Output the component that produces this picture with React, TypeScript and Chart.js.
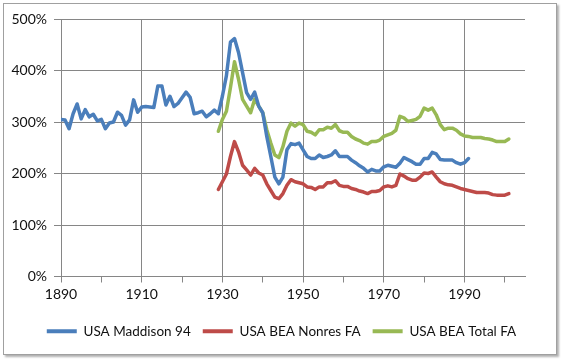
import React, { useEffect, useRef } from "react";
import { Chart, registerables } from "chart.js";

Chart.register(...registerables);

const maddisonStart = 1890;
const maddison = [
  305, 304, 287, 316, 335, 306, 324, 310, 315, 302,
  305, 287, 298, 300, 319, 313, 294, 304, 343, 319,
  329, 330, 329, 328, 370, 370, 333, 350, 330, 336,
  347, 358, 348, 316, 318, 321, 310, 316, 323, 316,
  350, 390, 455, 462, 435, 396, 357, 344, 358, 331,
  318, 272, 233, 193, 180, 193, 246, 258, 256, 259,
  246, 233, 229, 229, 236, 231, 233, 236, 244, 233,
  233, 233, 226, 221, 215, 210, 203, 208, 205, 205,
  213, 216, 214, 212, 220, 231, 227, 223, 218, 218,
  229, 229, 241, 238, 227, 226, 226, 226, 221, 218,
  221, 229,
];

const beaStart = 1929;
const beaNonres = [
  169,
  184, 199, 233, 262, 242, 216, 207, 197, 210, 201,
  197, 180, 167, 154, 151, 161, 177, 188, 184, 182,
  180, 174, 173, 169, 174, 174, 182, 182, 186, 177,
  175, 175, 171, 169, 166, 164, 161, 165, 165, 167,
  174, 176, 174, 177, 199, 195, 190, 187, 187, 193,
  201, 200, 203, 193, 184, 180, 178, 177, 174, 171,
  169, 167, 165, 163, 163, 163, 162, 159, 158, 158,
  158, 161,
];
const beaTotal = [
  282,
  305, 321, 367, 417, 383, 344, 331, 318, 344, 331,
  318, 285, 259, 236, 231, 252, 282, 298, 292, 298,
  295, 282, 280, 275, 285, 285, 290, 288, 295, 283,
  280, 280, 272, 267, 264, 259, 257, 262, 262, 265,
  272, 275, 278, 284, 311, 308, 301, 303, 305, 311,
  327, 323, 327, 314, 295, 285, 288, 288, 284, 277,
  273, 272, 270, 270, 270, 268, 267, 265, 262, 262,
  262, 267,
];

const seriesNames = ["USA Maddison 94", "USA BEA Nonres FA", "USA BEA Total FA"];
const seriesColors = ["#4A7EBB", "#BE4B48", "#98B954"];
const xLabelYears = [1890, 1910, 1930, 1950, 1970, 1990];
const xTickYears = [1890, 1900, 1910, 1920, 1930, 1940, 1950, 1960, 1970, 1980, 1990, 2000];
const yTickValues = [0, 100, 200, 300, 400, 500];

const toPoints = (start: number, vals: number[]) => vals.map((v, i) => ({ x: start + i, y: v }));

export default function App() {
  const ref = useRef<HTMLCanvasElement | null>(null);
  useEffect(() => {
    if (!ref.current) return;
    const gridColor = "#868686";
    const font = { family: "Lato", size: 14 };
    const legendFont = { family: "Lato", size: 13.5 };
    const textColor = "#111";
    const chart = new Chart(ref.current, {
      type: "line",
      data: {
        datasets: [
          { label: seriesNames[0], data: toPoints(maddisonStart, maddison) },
          { label: seriesNames[1], data: toPoints(beaStart, beaNonres) },
          { label: seriesNames[2], data: toPoints(beaStart, beaTotal) },
        ].map((d, i) => ({
          ...d,
          borderColor: seriesColors[i],
          backgroundColor: seriesColors[i],
          borderWidth: 3.5,
          pointRadius: 0,
          tension: 0,
          borderJoinStyle: "round" as const,
          borderCapStyle: "round" as const,
        })),
      },
      options: {
        responsive: false,
        animation: false,
        layout: { padding: { left: 0, right: 0, top: 19, bottom: 14 } },
        plugins: {
          tooltip: { enabled: false },
          legend: {
            position: "bottom",
            labels: {
              boxWidth: 30,
              boxHeight: 4,
              padding: 12,
              color: textColor,
              font: legendFont,
              generateLabels: (c: any) =>
                Chart.defaults.plugins.legend.labels.generateLabels(c).map((it: any) => ({
                  ...it,
                  lineWidth: 0,
                })),
            },
          },
        },
        scales: {
          x: {
            type: "linear",
            min: 1890,
            max: 2005,
            afterBuildTicks: (s: any) => {
              s.ticks = xTickYears.map((v) => ({ value: v }));
            },
            afterFit: (s: any) => {
              s.height = 36;
            },
            ticks: {
              autoSkip: false,
              maxRotation: 0,
              padding: 4,
              color: textColor,
              font,
              callback: (v: any) => (xLabelYears.includes(Number(v)) ? String(v) : ""),
            },
            grid: {
              color: (ctx: any) => (ctx.tick && xLabelYears.includes(ctx.tick.value) ? gridColor : "rgba(0,0,0,0)"),
              tickColor: gridColor,
              tickLength: 6,
            },
            border: { color: gridColor },
          },
          y: {
            min: 0,
            max: 500,
            afterBuildTicks: (s: any) => {
              s.ticks = yTickValues.map((v) => ({ value: v }));
            },
            afterFit: (s: any) => {
              s.width = 61;
            },
            ticks: {
              padding: 7,
              color: textColor,
              font,
              callback: (v: any) => v + "%",
            },
            grid: { color: gridColor, tickColor: gridColor, tickLength: 7 },
            border: { color: gridColor },
          },
          yr: {
            position: "right",
            display: true,
            grid: { display: false },
            ticks: { display: false },
            border: { display: false },
            afterFit: (s: any) => {
              s.width = 38;
            },
          },
        },
      } as any,
    });
    return () => chart.destroy();
  }, []);

  return (
    <div style={{ position: "fixed", left: 0, top: 0, width: 563, height: 362, background: "#fff" }}>
      <div
        style={{
          position: "absolute",
          left: 3,
          top: 3,
          width: 552,
          height: 350,
          border: "1px solid #a0a0a0",
          boxShadow: "2px 2px 2px #b0b0b0",
          background: "#fff",
        }}
      />
      <canvas ref={ref} width={563} height={362} style={{ position: "absolute", left: 0, top: 0, width: 563, height: 362 }} />
    </div>
  );
}
